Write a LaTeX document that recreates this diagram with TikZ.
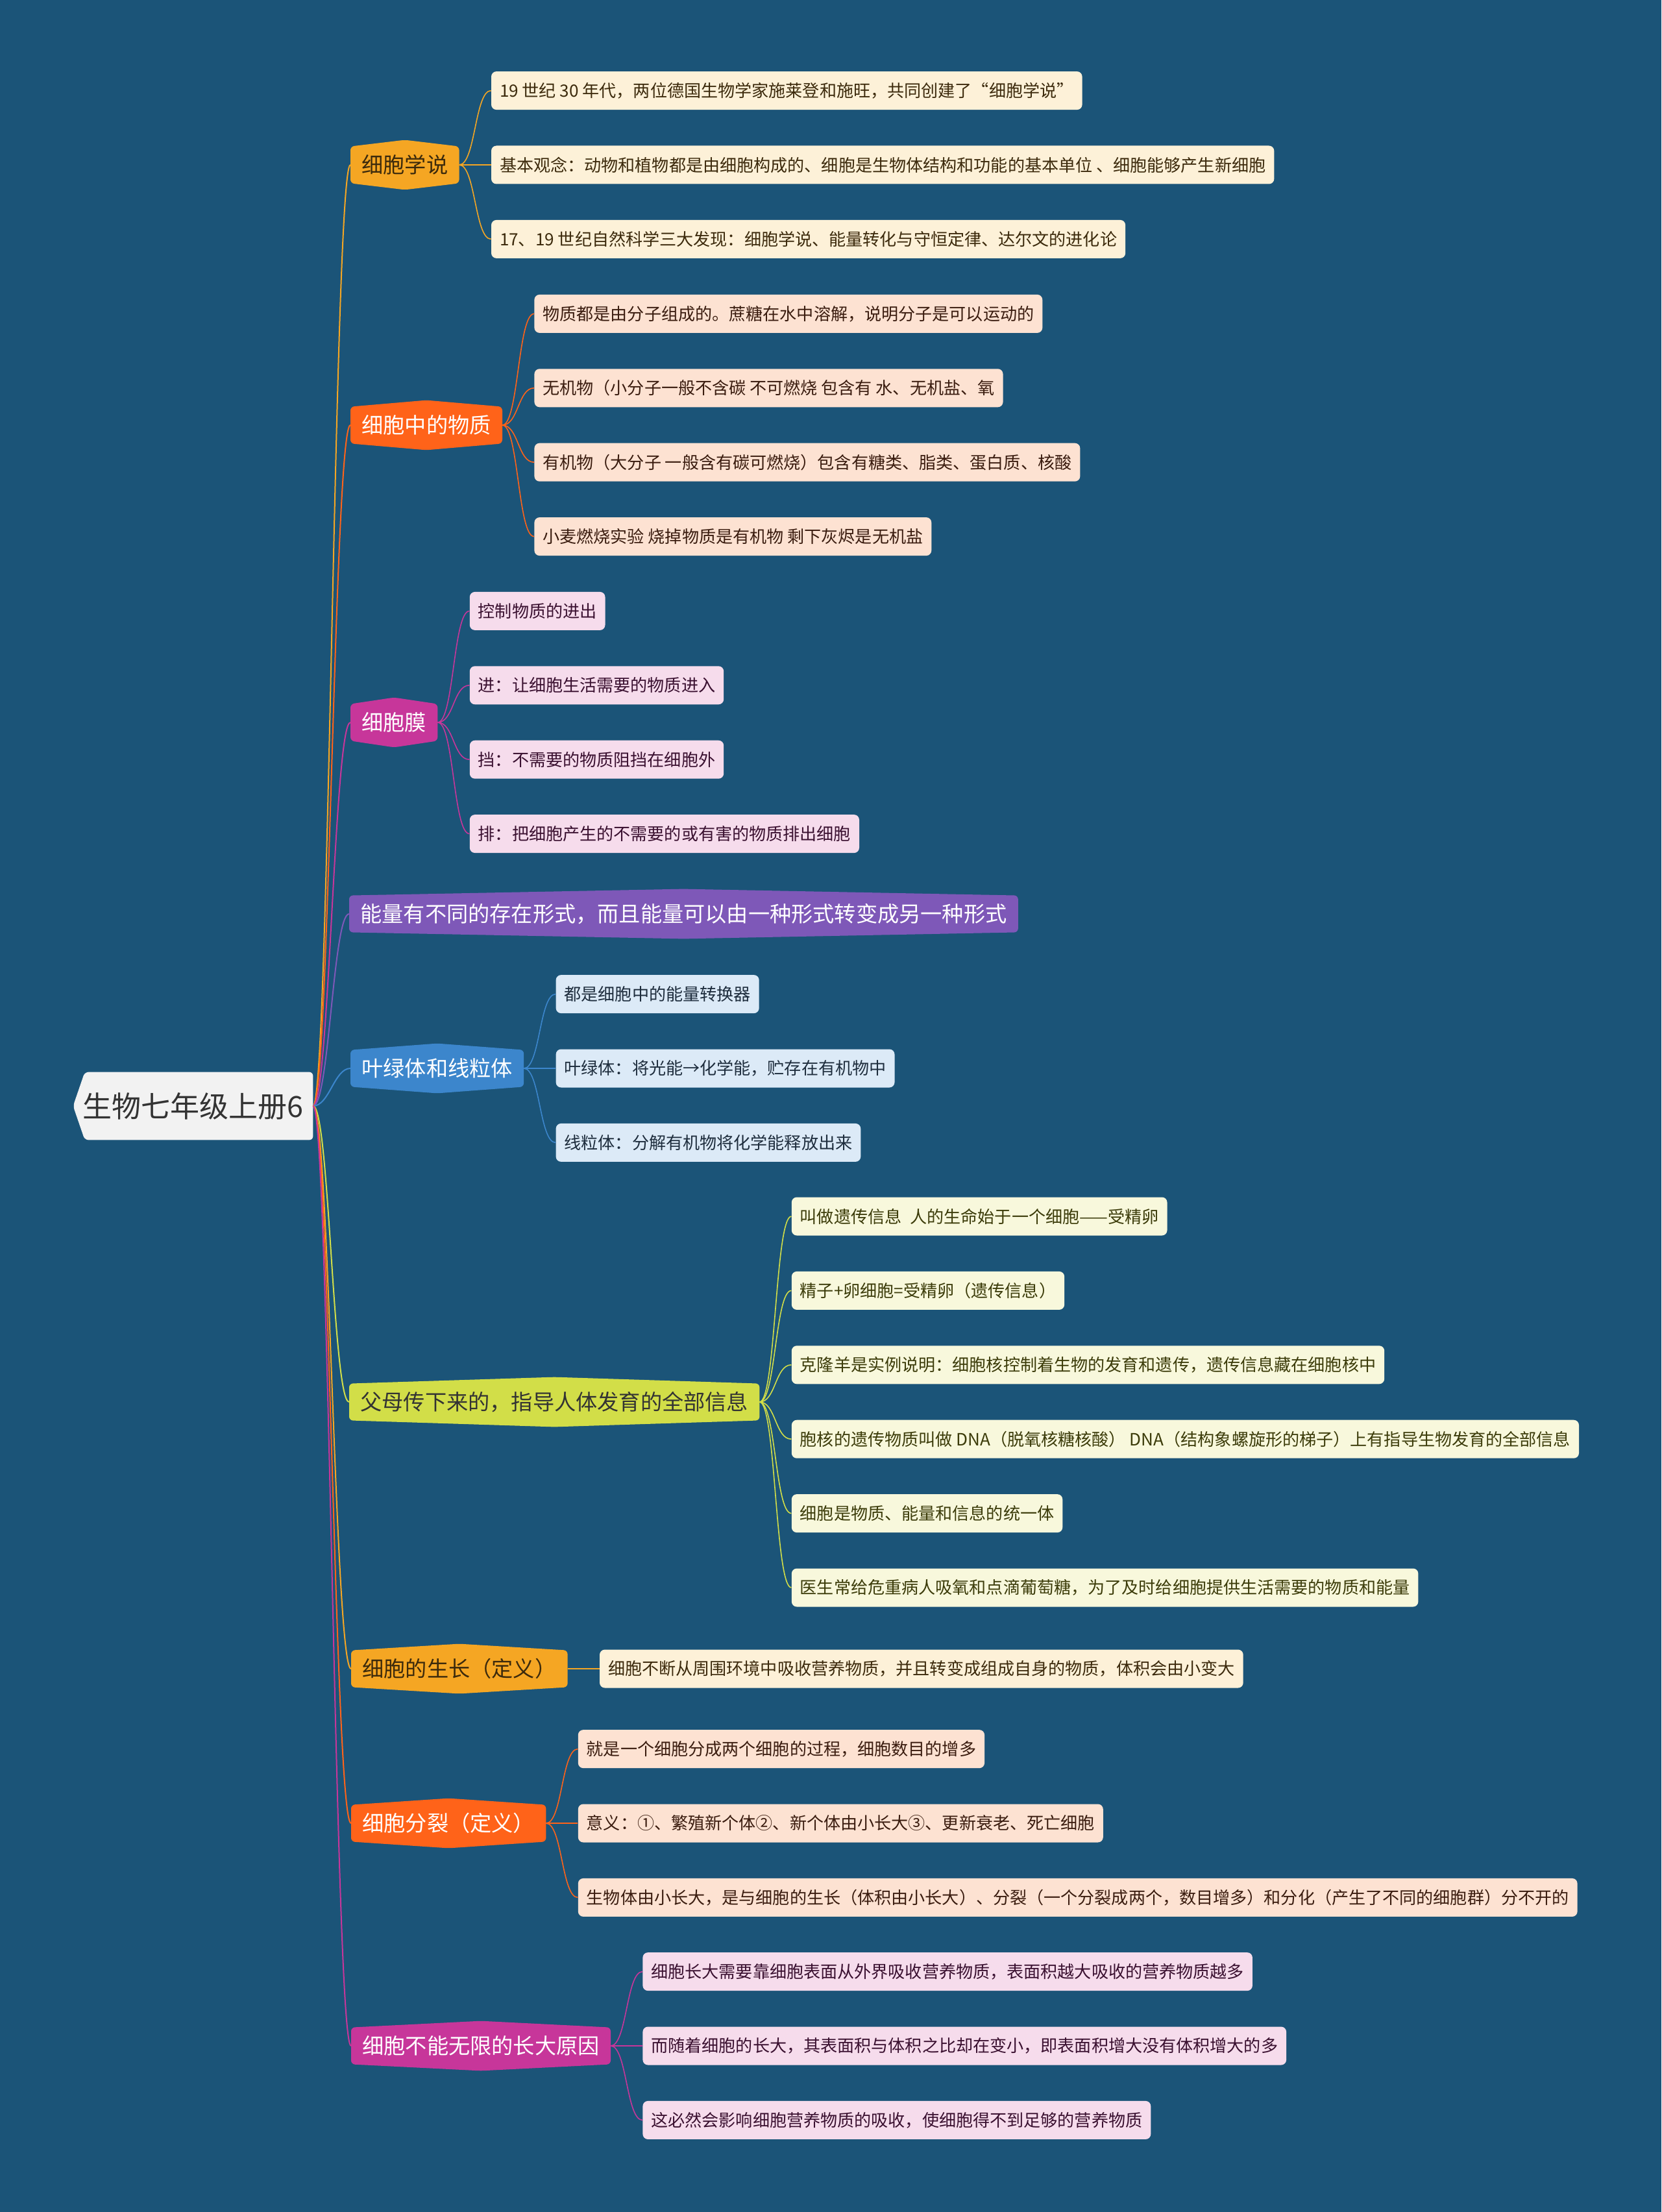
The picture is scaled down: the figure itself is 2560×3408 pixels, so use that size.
\documentclass[tikz,border=0pt]{standalone}
\usepackage{fontspec}
\setmainfont{Noto Sans CJK SC}
\usepackage{tikz}
\usetikzlibrary{positioning,calc,backgrounds}
\definecolor{bgcol}{RGB}{27,84,120}
\definecolor{rootcol}{RGB}{242,242,242}
\definecolor{inkcol}{RGB}{51,51,51}
\definecolor{goldcol}{RGB}{245,166,35}
\definecolor{flamecol}{RGB}{255,99,25}
\definecolor{rosecol}{RGB}{199,54,154}
\definecolor{violetcol}{RGB}{126,88,184}
\definecolor{skycol}{RGB}{60,134,204}
\definecolor{limecol}{RGB}{210,222,72}
\definecolor{creamcol}{RGB}{253,241,216}
\definecolor{peachcol}{RGB}{253,226,210}
\definecolor{pinkcol}{RGB}{246,220,236}
\definecolor{icecol}{RGB}{220,234,247}
\definecolor{palecol}{RGB}{248,248,220}
\definecolor{umbercol}{RGB}{60,42,12}
\definecolor{rustcol}{RGB}{58,28,15}
\definecolor{plumcol}{RGB}{58,16,48}
\definecolor{navycol}{RGB}{30,45,61}
\definecolor{olivecol}{RGB}{60,60,10}
\newcommand{\rootfont}{\fontsize{22.5pt}{26pt}\selectfont}
\newcommand{\branchfont}{\fontsize{16.6pt}{20pt}\selectfont}
\newcommand{\leaffont}{\fontsize{13.05pt}{16pt}\selectfont}

\begin{document}
\begin{tikzpicture}[
  x=0.5pt, y=-0.5pt,
  hub/.style={font=\rootfont, text=inkcol, minimum width=184.5pt, minimum height=52pt, inner sep=0pt},
  branch/.style={anchor=west, font=\branchfont, inner xsep=8.5pt, inner ysep=0pt, minimum height=28pt},
  leaf/.style={anchor=west, font=\leaffont, inner xsep=6.5pt, inner ysep=0pt, minimum height=29.5pt, rounded corners=4pt},
  link/.style={line width=1pt},
  twig/.style={line width=0.8pt},
]
\useasboundingbox (0,0) rectangle (2560,3408);

% ---------- root ----------
\node[hub] (root) at (297.5,1704) {生物七年级上册6};

% ---------- main branches ----------
\node[branch, text=umbercol] (b1) at (540,254) {细胞学说};
\node[branch, text=white] (b2) at (540,655) {细胞中的物质};
\node[branch, text=white] (b3) at (540,1113) {细胞膜};
\node[branch, text=white] (b4) at (538,1408) {能量有不同的存在形式，而且能量可以由一种形式转变成另一种形式};
\node[branch, text=white] (b5) at (540,1646) {叶绿体和线粒体};
\node[branch, text=inkcol] (b6) at (538,2160) {父母传下来的，指导人体发育的全部信息};
\node[branch, text=umbercol] (b7) at (541,2571) {细胞的生长（定义）};
\node[branch, text=white] (b8) at (541,2809) {细胞分裂（定义）};
\node[branch, text=white] (b9) at (541,3152) {细胞不能无限的长大原因};

\foreach \n/\c in {b1/goldcol, b2/flamecol, b3/rosecol, b4/violetcol, b5/skycol,
                   b6/limecol, b7/goldcol, b8/flamecol, b9/rosecol}
  \draw[link, draw=\c] (root.east) .. controls +(25,0) and +(-25,0) .. (\n.west);

% ---------- 细胞学说 ----------
\foreach \txt [count=\i from 0] in {
  {19 世纪 30 年代，两位德国生物学家施莱登和施旺，共同创建了“细胞学说”},
  {基本观念：动物和植物都是由细胞构成的、细胞是生物体结构和功能的基本单位 、细胞能够产生新细胞},
  {17、19 世纪自然科学三大发现：细胞学说、能量转化与守恒定律、达尔文的进化论}} {
  \node[leaf, fill=creamcol, text=umbercol] (s1-\i) at ($(b1.east)+(49,{(\i-1)*114.4})$) {\txt};
  \draw[twig, draw=goldcol] (b1.east) .. controls +(25,0) and +(-25,0) .. (s1-\i.west);
}

% ---------- 细胞中的物质 ----------
\foreach \txt [count=\i from 0] in {
  {物质都是由分子组成的。蔗糖在水中溶解，说明分子是可以运动的},
  {无机物（小分子一般不含碳 不可燃烧 包含有 水、无机盐、氧},
  {有机物（大分子 一般含有碳可燃烧）包含有糖类、脂类、蛋白质、核酸},
  {小麦燃烧实验 烧掉物质是有机物 剩下灰烬是无机盐}} {
  \node[leaf, fill=peachcol, text=rustcol] (s2-\i) at ($(b2.east)+(49,{(\i-1.5)*114.4})$) {\txt};
  \draw[twig, draw=flamecol] (b2.east) .. controls +(25,0) and +(-25,0) .. (s2-\i.west);
}

% ---------- 细胞膜 ----------
\foreach \txt [count=\i from 0] in {
  {控制物质的进出},
  {进：让细胞生活需要的物质进入},
  {挡：不需要的物质阻挡在细胞外},
  {排：把细胞产生的不需要的或有害的物质排出细胞}} {
  \node[leaf, fill=pinkcol, text=plumcol] (s3-\i) at ($(b3.east)+(49,{(\i-1.5)*114.4})$) {\txt};
  \draw[twig, draw=rosecol] (b3.east) .. controls +(25,0) and +(-25,0) .. (s3-\i.west);
}

% ---------- 叶绿体和线粒体 ----------
\foreach \txt [count=\i from 0] in {
  {都是细胞中的能量转换器},
  {叶绿体：将光能→化学能，贮存在有机物中},
  {线粒体：分解有机物将化学能释放出来}} {
  \node[leaf, fill=icecol, text=navycol] (s5-\i) at ($(b5.east)+(49,{(\i-1)*114.4})$) {\txt};
  \draw[twig, draw=skycol] (b5.east) .. controls +(25,0) and +(-25,0) .. (s5-\i.west);
}

% ---------- 遗传信息 ----------
\foreach \txt [count=\i from 0] in {
  {叫做遗传信息\enspace 人的生命始于一个细胞——受精卵},
  {精子+卵细胞=受精卵（遗传信息）},
  {克隆羊是实例说明：细胞核控制着生物的发育和遗传，遗传信息藏在细胞核中},
  {胞核的遗传物质叫做 DNA（脱氧核糖核酸） DNA（结构象螺旋形的梯子）上有指导生物发育的全部信息},
  {细胞是物质、能量和信息的统一体},
  {医生常给危重病人吸氧和点滴葡萄糖，为了及时给细胞提供生活需要的物质和能量}} {
  \node[leaf, fill=palecol, text=olivecol] (s6-\i) at ($(b6.east)+(49,{(\i-2.5)*114.4})$) {\txt};
  \draw[twig, draw=limecol] (b6.east) .. controls +(25,0) and +(-25,0) .. (s6-\i.west);
}

% ---------- 细胞的生长 ----------
\node[leaf, fill=creamcol, text=umbercol, right=24.5pt of b7] (s7-0)
  {细胞不断从周围环境中吸收营养物质，并且转变成组成自身的物质，体积会由小变大};
\draw[twig, draw=goldcol] (b7.east) -- (s7-0.west);

% ---------- 细胞分裂 ----------
\foreach \txt [count=\i from 0] in {
  {就是一个细胞分成两个细胞的过程，细胞数目的增多},
  {意义：①、繁殖新个体②、新个体由小长大③、更新衰老、死亡细胞},
  {生物体由小长大，是与细胞的生长（体积由小长大）、分裂（一个分裂成两个，数目增多）和分化（产生了不同的细胞群）分不开的}} {
  \node[leaf, fill=peachcol, text=rustcol] (s8-\i) at ($(b8.east)+(49,{(\i-1)*114.4})$) {\txt};
  \draw[twig, draw=flamecol] (b8.east) .. controls +(25,0) and +(-25,0) .. (s8-\i.west);
}

% ---------- 不能无限长大 ----------
\foreach \txt [count=\i from 0] in {
  {细胞长大需要靠细胞表面从外界吸收营养物质，表面积越大吸收的营养物质越多},
  {而随着细胞的长大，其表面积与体积之比却在变小，即表面积增大没有体积增大的多},
  {这必然会影响细胞营养物质的吸收，使细胞得不到足够的营养物质}} {
  \node[leaf, fill=pinkcol, text=plumcol] (s9-\i) at ($(b9.east)+(49,{(\i-1)*114.4})$) {\txt};
  \draw[twig, draw=rosecol] (b9.east) .. controls +(25,0) and +(-25,0) .. (s9-\i.west);
}

% ---------- backdrop, root and hexagon shapes ----------
\begin{scope}[on background layer]
  \fill[bgcol] (0,0) rectangle (2560,3408);
  \fill[rootcol, rounded corners=3pt] (root.west) -- ($(root.north west)+(18,0)$) -- (root.north east)
    -- (root.south east) -- ($(root.south west)+(18,0)$) -- cycle;
  \foreach \n/\c in {b1/goldcol, b2/flamecol, b3/rosecol, b4/violetcol, b5/skycol,
                     b6/limecol, b7/goldcol, b8/flamecol, b9/rosecol}
    \fill[\c, rounded corners=3pt] (\n.north west) -- ($(\n.north)+(0,-10)$) -- (\n.north east)
      -- (\n.south east) -- ($(\n.south)+(0,10)$) -- (\n.south west) -- cycle;
\end{scope}
\end{tikzpicture}
\end{document}
